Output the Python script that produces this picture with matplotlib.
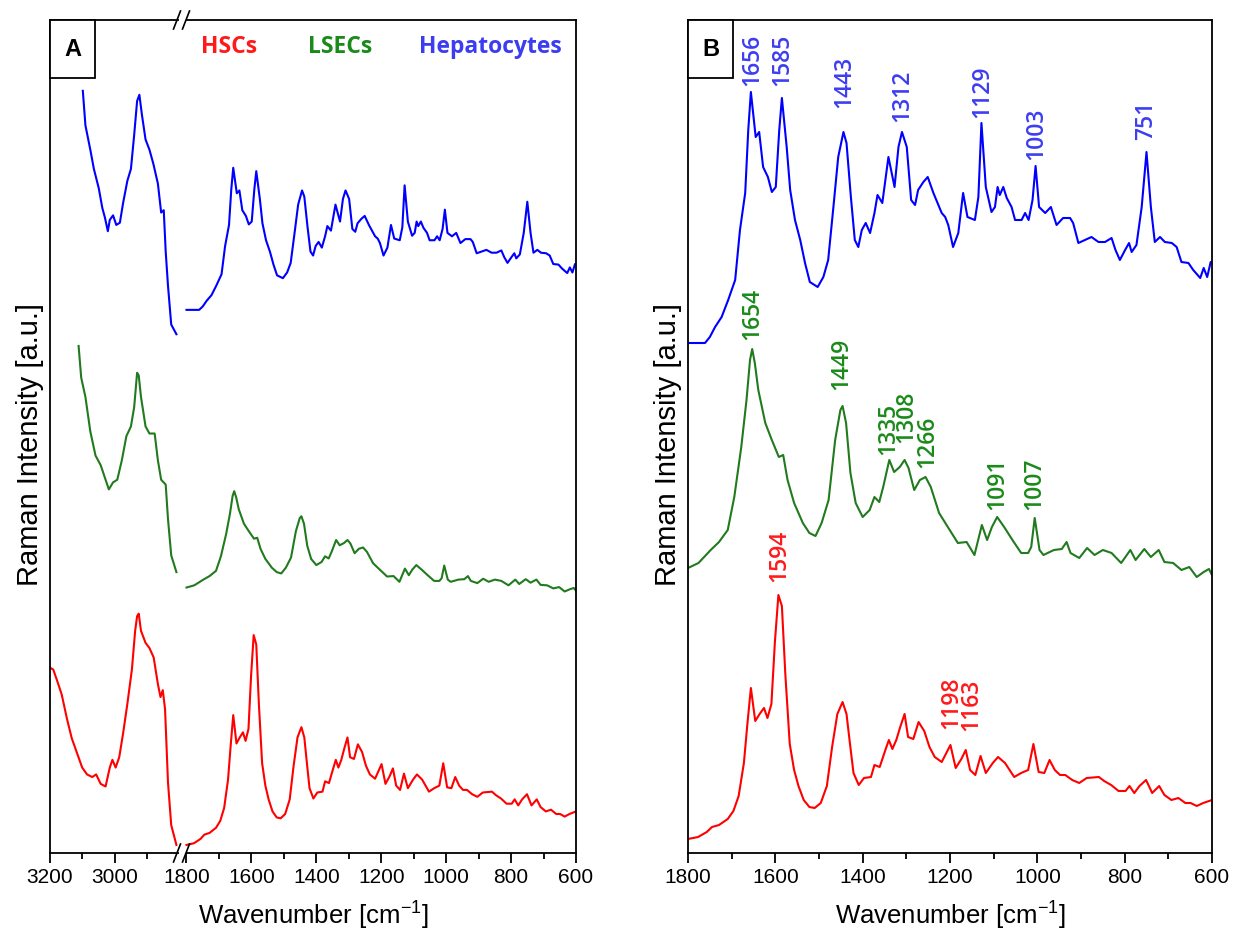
import numpy as np
import matplotlib.pyplot as plt
from matplotlib.patches import Rectangle
from matplotlib.lines import Line2D

plt.rcParams['font.family'] = ['Liberation Sans', 'DejaVu Sans']
plt.rcParams['mathtext.default'] = 'regular'

# ---- fingerprint region (1800-600 cm-1), intensity in a.u. ----
wn_hep = [1800, 1761, 1750, 1738, 1723, 1708, 1692, 1681, 1669, 1662, 1656, 1645, 1637, 1628, 1617,
          1608, 1599, 1591, 1585, 1574, 1566, 1555, 1543, 1532, 1521, 1503, 1490, 1479, 1467, 1456,
          1444, 1437, 1427, 1418, 1410, 1402, 1393, 1383, 1373, 1366, 1355, 1341, 1327, 1318, 1310,
          1299, 1289, 1280, 1273, 1261, 1251, 1238, 1219, 1211, 1204, 1193, 1181, 1170, 1160, 1143,
          1135, 1128, 1118, 1105, 1097, 1091, 1086, 1078, 1070, 1059, 1051, 1036, 1028, 1020, 1011,
          1004, 996, 982, 969, 956, 941, 925, 918, 906, 891, 876, 860, 845, 830, 821,
          811, 799, 790, 784, 773, 761, 750, 740, 731, 719, 708, 692, 681, 670, 654,
          643, 627, 619, 611, 603, 600]
int_hep = [2, 2, 8, 18, 28, 45, 65, 115, 152, 215, 253, 208, 213, 178, 168,
           153, 158, 215, 247, 198, 155, 125, 105, 82, 63, 58, 68, 85, 138, 188,
           213, 202, 148, 105, 98, 115, 122, 112, 132, 150, 142, 188, 158, 198, 213,
           198, 145, 140, 155, 163, 168, 152, 132, 128, 120, 98, 112, 152, 128, 125,
           148, 222, 158, 133, 138, 158, 150, 158, 147, 138, 125, 125, 132, 125, 145,
           179, 138, 132, 138, 120, 127, 127, 122, 102, 105, 108, 103, 103, 107, 95,
           85, 95, 102, 93, 100, 138, 193, 138, 103, 108, 103, 102, 98, 83, 82,
           75, 67, 77, 68, 83, 82]

wn_lsec = [1800, 1776, 1748, 1729, 1709, 1694, 1678, 1666, 1658, 1653, 1647, 1639, 1623, 1608, 1592,
           1582, 1572, 1557, 1537, 1522, 1508, 1494, 1478, 1463, 1451, 1446, 1438, 1428, 1416, 1400,
           1384, 1373, 1362, 1353, 1339, 1328, 1315, 1304, 1295, 1282, 1269, 1256, 1244, 1225, 1205,
           1182, 1162, 1144, 1127, 1115, 1104, 1092, 1076, 1057, 1037, 1021, 1014, 1006, 995, 986,
           962, 944, 933, 924, 904, 886, 869, 850, 830, 808, 787, 775, 755, 740, 722,
           709, 689, 670, 652, 635, 619, 607, 600]
int_lsec = [17, 22, 35, 43, 55, 88, 138, 185, 225, 236, 222, 195, 162, 145, 128,
            130, 105, 82, 62, 52, 49, 62, 85, 145, 175, 179, 162, 112, 82, 68,
            75, 88, 83, 98, 125, 113, 118, 125, 117, 95, 105, 108, 98, 72, 58,
            42, 43, 30, 60, 45, 58, 68, 58, 45, 32, 32, 38, 67, 35, 30,
            35, 36, 43, 32, 27, 37, 30, 35, 32, 22, 35, 25, 36, 28, 35,
            23, 22, 15, 18, 8, 13, 16, 10]

wn_hsc = [1800, 1777, 1757, 1745, 1729, 1709, 1696, 1684, 1672, 1664, 1656, 1646, 1636, 1626, 1618,
          1609, 1601, 1593, 1585, 1577, 1567, 1557, 1547, 1535, 1522, 1510, 1496, 1482, 1470, 1458,
          1446, 1437, 1429, 1421, 1409, 1397, 1381, 1373, 1361, 1348, 1340, 1332, 1323, 1314, 1304,
          1296, 1284, 1272, 1259, 1247, 1235, 1219, 1199, 1187, 1174, 1164, 1154, 1142, 1130, 1118,
          1102, 1090, 1074, 1053, 1037, 1021, 1009, 997, 984, 972, 960, 948, 936, 920, 904,
          887, 859, 847, 831, 814, 798, 789, 778, 766, 751, 737, 721, 709, 693, 677,
          661, 649, 635, 620, 600]
int_hsc = [14, 16, 21, 26, 28, 34, 42, 57, 90, 129, 165, 132, 139, 145, 135,
           149, 211, 258, 247, 178, 109, 83, 67, 53, 46, 45, 50, 67, 106, 139,
           151, 139, 109, 80, 68, 75, 76, 88, 86, 103, 113, 104, 113, 126, 139,
           116, 114, 131, 122, 106, 96, 91, 108, 85, 94, 103, 83, 78, 97, 80,
           90, 96, 90, 76, 80, 83, 109, 81, 80, 93, 83, 78, 78, 73, 70,
           75, 76, 72, 68, 62, 62, 67, 60, 67, 73, 60, 67, 58, 53, 55,
           50, 50, 47, 50, 53]

# ---- high wavenumber region (CH stretching) ----
wn_hep_hi = [3099, 3091, 3076, 3065, 3050, 3039, 3031, 3022, 3016, 3006, 2996, 2985, 2975, 2962, 2951,
             2941, 2932, 2925, 2917, 2906, 2894, 2882, 2868, 2858, 2850, 2844, 2837, 2827, 2811]
int_hep_hi = [389, 328, 285, 251, 217, 182, 165, 141, 161, 169, 152, 156, 191, 230, 251,
              311, 371, 382, 346, 303, 285, 260, 225, 174, 178, 105, 45, -24, -41]

wn_lsec_hi = [3112, 3104, 3091, 3076, 3060, 3044, 3029, 3019, 3006, 2993, 2979, 2965, 2951, 2941, 2932,
              2927, 2920, 2906, 2894, 2878, 2868, 2858, 2844, 2837, 2827, 2811]
int_lsec_hi = [566, 494, 450, 372, 317, 295, 262, 240, 256, 262, 306, 361, 383, 427, 505,
               499, 450, 383, 367, 367, 306, 262, 251, 173, 90, 52]

wn_hsc_hi = [3200, 3190, 3179, 3164, 3148, 3133, 3117, 3101, 3086, 3070, 3058, 3044, 3029, 3016, 3008,
             2998, 2987, 2975, 2962, 2948, 2938, 2932, 2927, 2920, 2906, 2894, 2881, 2868, 2860, 2853,
             2846, 2837, 2827, 2811]
int_hsc_hi = [220, 218, 206, 189, 161, 138, 121, 104, 96, 93, 96, 85, 82, 104, 113,
              104, 116, 144, 178, 218, 263, 280, 283, 263, 249, 243, 232, 201, 186, 194,
              172, 87, 37, 14]

# peak labels (text, x position, label base height in panel B)
peaks_hep = [('1656', 1654, 767), ('1585', 1585, 767), ('1443', 1443, 745), ('1312', 1310, 731),
             ('1129', 1127, 735), ('1003', 1002, 693), ('751', 751, 713)]
peaks_lsec = [('1654', 1654, 513), ('1449', 1449, 463), ('1335', 1342, 398), ('1308', 1300, 410),
              ('1266', 1253, 385), ('1091', 1092, 343), ('1007', 1006, 343)]
peaks_hsc = [('1594', 1590, 271), ('1198', 1197, 124), ('1163', 1152, 122)]

c_hep, c_lsec, c_hsc = '#0000ff', '#217a1d', '#ff0000'
t_hep, t_lsec, t_hsc = '#3c3cf2', '#1a8a1a', '#ff1a1a'

W, H = 1235, 936
fig = plt.figure(figsize=(W / 100, H / 100), dpi=100)


def box(l, r, t, b):
    return [l / W, 1 - b / H, (r - l) / W, (b - t) / H]


ax_hi = fig.add_axes(box(50, 180, 20, 853))
ax_lo = fig.add_axes(box(180, 576, 20, 853))
ax_b = fig.add_axes(box(688, 1212, 20, 853))

for ax in (ax_hi, ax_lo, ax_b):
    ax.set_ylim(0, 833)
    ax.set_yticks([])
    for s in ax.spines.values():
        s.set_linewidth(1.3)
    ax.tick_params(axis='x', which='major', direction='out', length=7, width=1.3,
                   labelsize=15, pad=4)
    ax.tick_params(axis='x', which='minor', direction='out', length=4, width=1.3)

ax_hi.spines['right'].set_visible(False)
ax_lo.spines['left'].set_visible(False)
ax_hi.set_xlim(3200, 2800)
ax_hi.set_xticks([3200, 3000])
ax_hi.set_xticks([3100, 2900], minor=True)
ax_lo.set_xlim(1820, 600)
ax_lo.set_xticks(np.arange(1800, 599, -200))
ax_lo.set_xticks(np.arange(1700, 699, -200), minor=True)
ax_b.set_xlim(1800, 600)
ax_b.set_xticks(np.arange(1800, 599, -200))
ax_b.set_xticks(np.arange(1700, 699, -200), minor=True)

lw = 1.5
# panel A: scale and offset for each spectrum
stackA = [(wn_hep, int_hep, wn_hep_hi, int_hep_hi, 0.566, 542, c_hep),
          (wn_lsec, int_lsec, wn_lsec_hi, int_lsec_hi, 0.44, 258, c_lsec),
          (wn_hsc, int_hsc, wn_hsc_hi, int_hsc_hi, 0.86, -4, c_hsc)]
for wn, it, wn_h, it_h, k, off, c in stackA:
    ax_lo.plot(wn, off + k * np.array(it), color=c, lw=lw)
    ax_hi.plot(wn_h, off + k * np.array(it_h), color=c, lw=lw)

# panel B
stackB = [(wn_hep, int_hep, 508, c_hep, peaks_hep, t_hep),
          (wn_lsec, int_lsec, 268, c_lsec, peaks_lsec, t_lsec),
          (wn_hsc, int_hsc, 0, c_hsc, peaks_hsc, t_hsc)]
for wn, it, off, c, pk, tc in stackB:
    ax_b.plot(wn, off + np.array(it), color=c, lw=lw)
    for txt, xp, yp in pk:
        ax_b.text(xp, yp, txt, rotation=90, ha='center', va='bottom', color=tc,
                  fontsize=16.5, family=['Open Sans', 'DejaVu Sans'], fontweight='semibold',
                  linespacing=1.0)


# axis break marks
def slash(x, y):
    fig.add_artist(Line2D([(x - 3.5) / W, (x + 3.5) / W], [1 - (y + 9) / H, 1 - (y - 9) / H],
                          color='black', lw=1.2, transform=fig.transFigure))


for yb in (20, 853):
    fig.add_artist(Rectangle(((178.5) / W, 1 - (yb + 2) / H), 7 / W, 4 / H, facecolor='white',
                             edgecolor='none', transform=fig.transFigure))
    slash(177, yb)
    slash(186, yb)

# panel tags
for xl, tag in ((50, 'A'), (688, 'B')):
    fig.add_artist(Rectangle((xl / W, 1 - 78 / H), 45 / W, 58 / H, facecolor='white',
                             edgecolor='black', lw=1.3, transform=fig.transFigure))
    fig.text((xl + 22.5) / W, 1 - 49 / H, tag, ha='center', va='center', fontsize=17,
             fontweight='bold')

# legend text
for xc, lab, tc in ((229, 'HSCs', t_hsc), (340, 'LSECs', t_lsec), (490, 'Hepatocytes', t_hep)):
    fig.text(xc / W, 1 - 47 / H, lab, ha='center', va='center', color=tc, fontsize=16.5,
             fontweight='bold', family=['Open Sans', 'DejaVu Sans'])

for xc in (30, 668):
    fig.text(xc / W, 1 - 444 / H, 'Raman Intensity [a.u.]', rotation=90, ha='center',
             va='center', fontsize=21)
for xc in (313, 950):
    fig.text(xc / W, 1 - 916 / H, 'Wavenumber [cm$^{-1}$]', ha='center', va='center',
             fontsize=18.5)

fig.savefig('out.png', dpi=100)
